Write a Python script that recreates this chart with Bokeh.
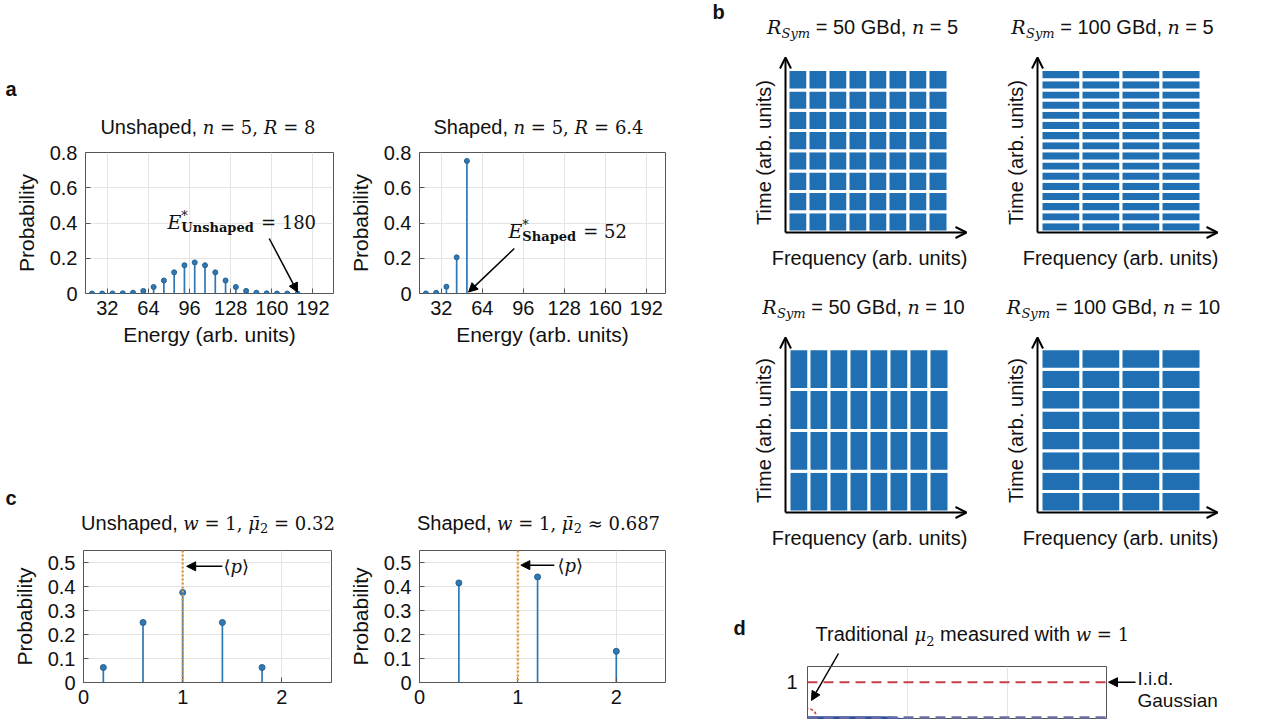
import numpy as np
from bokeh.plotting import figure
from bokeh.layouts import row, column
from bokeh.models import (Label, Arrow, NormalHead, OpenHead, Span, FixedTicker, Grid,
                          Range1d, Spacer, CustomJSTickFormatter, ColumnDataSource)
from bokeh.embed import file_html
from bokeh.resources import INLINE

# ---------------- data ----------------
energy_unshaped = [20, 28, 36, 44, 52, 60, 68, 76, 84, 92, 100, 108, 116, 124,
                   132, 140, 148, 156, 164, 172, 180]
prob_unshaped = [0.0, 0.0, 0.0002, 0.0011, 0.0046, 0.0148, 0.037, 0.0739, 0.1201,
                 0.1602, 0.1762, 0.1602, 0.1201, 0.0739, 0.037, 0.0148, 0.0046,
                 0.0011, 0.0002, 0.0, 0.0]
energy_shaped = [20, 28, 36, 44, 52]
prob_shaped = [0.0005, 0.004, 0.039, 0.205, 0.752]
energy_ticks = [32, 64, 96, 128, 160, 192]
prob_ticks_a = [0, 0.2, 0.4, 0.6, 0.8]

amp_unshaped = [0.2, 0.6, 1.0, 1.4, 1.8]
amp_prob_unshaped = [0.0625, 0.25, 0.375, 0.25, 0.0625]
amp_shaped = [0.4, 1.2, 2.0]
amp_prob_shaped = [0.415, 0.44, 0.13]
mean_amp = 1.0
amp_ticks = [0, 1, 2]
prob_ticks_c = [0, 0.1, 0.2, 0.3, 0.4, 0.5]

b_titles = [("50", "5"), ("100", "5"), ("50", "10"), ("100", "10")]
b_freq_slots = [8, 4, 8, 4]
b_time_slots = [8, 16, 4, 8]

d_w = [1, 2, 3, 5, 7, 10, 15, 20, 30, 50, 100, 200, 500, 1000]
d_mu2 = [0.687, 0.687, 0.687, 0.687, 0.685, 0.66, 0.6, 0.55, 0.49, 0.43, 0.38,
         0.35, 0.33, 0.32]
d_iid = 1.0
d_traditional = 0.687
d_grid_w = [10, 100]

# ---------------- style ----------------
SANS = "Liberation Sans"
SERIF = "DejaVu Serif"
BLUE = "#2f78b3"
BLOCK = "#1f6fb2"
ORANGE = "#e8963a"
RED = "#c8404a"
DBLUE = "#6a6ea8"
SBLUE = "#2b4f9e"
INK = "#111111"
TICK = "20px"
ALAB = "21px"

W_SANS = {' ': .278, ',': .278, '.': .278, '(': .333, ')': .333, '=': .584,
          'U': .722, 'S': .667, 'G': .778, 'B': .667, 'T': .611, 'I': .278,
          'i': .222, 'l': .222, 't': .278, 'r': .333, 'f': .278, 'j': .222,
          's': .5, 'c': .5, 'k': .5, 'v': .5, 'x': .5, 'y': .5, 'z': .5,
          'm': .833, 'w': .722}
W_SERIF = {' ': .318, ',': .318, '.': .318, '=': .838, '\u2248': .838, '*': .5,
           '\u27e8': .39, '\u27e9': .39}
W_SI = {'n': .644, 'R': .77, 'w': .856, 'E': .73, '\u03bc': .659, 'p': .64,
        'S': .663, 'y': .592, 'm': .95, '\u0304': 0.0}
W_SB = {'U': .872, 'n': .712, 's': .595, 'h': .712, 'a': .675, 'p': .716,
        'e': .678, 'd': .716, 'S': .742}
KINDS = {"sans": (SANS, "normal", W_SANS, .556),
         "sansb": (SANS, "bold", W_SANS, .6),
         "serif": (SERIF, "normal", W_SERIF, .636),
         "si": (SERIF, "italic", W_SI, .65),
         "sb": (SERIF, "bold", W_SB, .7)}


def seg_width(text, kind, size):
    table, default = KINDS[kind][2], KINDS[kind][3]
    return sum(table.get(ch, default) for ch in text) * size


def rich(p, frame, rx, ry, segs, align="left"):
    """segs: (text, kind, size, dy, advance); frame = (left, bottom) in page px;
    ry is the page y of the text baseline."""
    fl, fb = frame
    total = sum(seg_width(t, k, s) for t, k, s, dy, adv in segs if adv)
    cur = rx - total / 2 if align == "center" else rx
    for t, k, s, dy, adv in segs:
        fam, sty = KINDS[k][0], KINDS[k][1]
        lead = len(t) - len(t.lstrip(' '))
        core = t.strip(' ')
        x = cur + seg_width(' ' * lead, k, s)
        p.add_layout(Label(x=x - fl, y=fb - ry + 0.35 * s + dy, x_units="screen",
                           y_units="screen", text=core, text_font=fam,
                           text_font_style=sty, text_font_size=f"{s}px", text_color=INK,
                           text_align="left", text_baseline="middle"))
        if adv:
            cur += seg_width(t, k, s)


def plain(p, x, y, text, size=20, style="normal", align="center", baseline="middle",
          angle=0.0, font=SANS):
    p.add_layout(Label(x=x, y=y, x_units="screen", y_units="screen", text=text,
                       text_font=font, text_font_style=style, text_font_size=f"{size}px",
                       text_color=INK, text_align=align, text_baseline=baseline,
                       angle=angle))


def no_grid(p):
    for r in p.center:
        if isinstance(r, Grid):
            r.visible = False


def blank(width, height):
    p = figure(width=width, height=height, x_range=Range1d(0, width),
               y_range=Range1d(0, height), toolbar_location=None, output_backend="svg",
               title=None, x_axis_location=None, y_axis_location=None, min_border=0)
    p.outline_line_color = None
    no_grid(p)
    return p


def zero_fmt():
    return CustomJSTickFormatter(code="return tick == 0 ? '0' : tick.toFixed(1);")


def style_axes(p):
    for ax in p.axis:
        ax.axis_line_color = None
        ax.major_tick_in = 5
        ax.major_tick_out = 0
        ax.major_tick_line_color = "#555555"
        ax.minor_tick_line_color = None
        ax.major_label_text_font = SANS
        ax.major_label_text_font_size = TICK
        ax.major_label_text_color = INK
        ax.axis_label_text_font = SANS
        ax.axis_label_text_font_size = ALAB
        ax.axis_label_text_font_style = "normal"
        ax.axis_label_text_color = INK


def stem_fig(width, height, bl, br, bt, bb, xr, yr, xticks, yticks, xlabel):
    p = figure(width=width, height=height, x_range=Range1d(*xr), y_range=Range1d(*yr),
               toolbar_location=None, output_backend="svg", title=None,
               min_border_left=bl, min_border_right=br, min_border_top=bt,
               min_border_bottom=bb)
    p.outline_line_color = "#555555"
    p.xaxis.ticker = FixedTicker(ticks=xticks)
    p.yaxis.ticker = FixedTicker(ticks=yticks)
    p.yaxis.formatter = zero_fmt()
    style_axes(p)
    p.yaxis.major_label_standoff = 8
    p.yaxis.axis_label_standoff = 9
    p.yaxis.axis_label = "Probability"
    p.xaxis.major_label_standoff = 7
    p.xaxis.axis_label_standoff = 5
    if xlabel:
        p.xaxis.axis_label = xlabel
    p.grid.grid_line_color = "#e4e4e4"
    return p


def stems(p, xs, ys, size):
    src = ColumnDataSource(dict(x=xs, y=ys, y0=[0] * len(xs)))
    p.segment(x0="x", y0="y0", x1="x", y1="y", source=src, line_color=BLUE, line_width=1.7)
    p.scatter(x="x", y="y", source=src, size=size, fill_color=BLUE, line_color="#26618f")


def arrow(p, x0, y0, x1, y1, size=9, width=1.5, head=True):
    end = NormalHead(size=size, fill_color="black", line_color="black") if head else None
    p.add_layout(Arrow(end=end, x_start=x0, y_start=y0, x_end=x1, y_end=y1,
                       line_color="black", line_width=width))


# ---------------- panel a ----------------
stripA = blank(700, 65)           # page y 75..140
SA = (0, 140)
plain(stripA, 5, 140 - 88, "a", size=20, style="bold", align="left")
rich(stripA, SA, 207.5, 133, [("Unshaped, ", "sans", 20, 0, True), ("n", "si", 18, 0, True),
                              (" = 5, ", "serif", 18, 0, True), ("R", "si", 18, 0, True),
                              (" = 8", "serif", 18, 0, True)], align="center")
rich(stripA, SA, 538, 133, [("Shaped, ", "sans", 20, 0, True), ("n", "si", 18, 0, True),
                            (" = 5, ", "serif", 18, 0, True), ("R", "si", 18, 0, True),
                            (" = 6.4", "serif", 18, 0, True)], align="center")

a1 = stem_fig(345, 220, 85, 12, 12, 67, (15, 208), (0, 0.8), energy_ticks, prob_ticks_a,
              "Energy (arb. units)")
stems(a1, energy_unshaped, prob_unshaped, 5)
A1 = (85, 293)
rich(a1, A1, 167, 228, [("E", "si", 19, 0, True), ("*", "serif", 13, 8, False),
                        ("Unshaped", "sb", 13, -4, True), (" = 180", "serif", 18, 0, True)])
arrow(a1, 158, 0.312, 180, 0.008)

a2 = stem_fig(355, 220, 74, 35, 12, 67, (15, 207), (0, 0.8), energy_ticks, prob_ticks_a,
              "Energy (arb. units)")
stems(a2, energy_shaped, prob_shaped, 5)
A2 = (419, 293)
rich(a2, A2, 508, 237, [("E", "si", 19, 0, True), ("*", "serif", 13, 8, False),
                        ("Shaped", "sb", 13, -4, True), (" = 52", "serif", 18, 0, True)])
arrow(a2, 89, 0.255, 53.3, 0.008)

# ---------------- panel c ----------------
stripC = blank(700, 68)           # page y 470..538
SC = (0, 538)
plain(stripC, 5, 538 - 497, "c", size=20, style="bold", align="left")
rich(stripC, SC, 207.5, 529, [("Unshaped, ", "sans", 20, 0, True), ("w", "si", 18, 0, True),
                              (" = 1, ", "serif", 18, 0, True),
                              ("\u03bc\u0304", "si", 18, 0, True),
                              ("2", "serif", 13, -3, True), (" = 0.32", "serif", 18, 0, True)],
     align="center")
rich(stripC, SC, 538, 529, [("Shaped, ", "sans", 20, 0, True), ("w", "si", 18, 0, True),
                            (" = 1, ", "serif", 18, 0, True),
                            ("\u03bc\u0304", "si", 18, 0, True),
                            ("2", "serif", 13, -3, True),
                            (" \u2248 0.687", "serif", 18, 0, True)], align="center")

c1 = stem_fig(345, 181, 83, 14, 12, 37, (0, 2.5), (0, 0.55), amp_ticks, prob_ticks_c, None)
stems(c1, amp_unshaped, amp_prob_unshaped, 6)
c1.add_layout(Span(location=mean_amp, dimension="height", line_color=ORANGE,
                   line_dash="2 2", line_width=2.5))
C1 = (83, 682)
arrow(c1, 1.40, 0.484, 1.04, 0.484)
rich(c1, C1, 223, 572, [("\u27e8", "serif", 18, 0, True), ("p", "si", 18, 0, True),
                        ("\u27e9", "serif", 18, 0, True)])

c2 = stem_fig(355, 181, 72, 35, 12, 37, (0, 2.5), (0, 0.55), amp_ticks, prob_ticks_c, None)
stems(c2, amp_shaped, amp_prob_shaped, 6)
c2.add_layout(Span(location=mean_amp, dimension="height", line_color=ORANGE,
                   line_dash="2 2", line_width=2.5))
C2 = (417, 682)
arrow(c2, 1.37, 0.489, 1.03, 0.489)
rich(c2, C2, 555, 571, [("\u27e8", "serif", 18, 0, True), ("p", "si", 18, 0, True),
                        ("\u27e9", "serif", 18, 0, True)])


# ---------------- panel b ----------------
def grid_fig(idx, fx0, fy_bottom, W, H, cx0, cy0, sy, ox, oy, top_y, right_x,
             title_cx, title_base, time_x, time_y, freq_x, freq_y):
    sx = 20.0
    xr = (-(cx0 - fx0) / sx, -(cx0 - fx0) / sx + W / sx)
    yr = (-(fy_bottom - cy0) / sy, -(fy_bottom - cy0) / sy + H / sy)
    p = figure(width=W, height=H, x_range=Range1d(*xr), y_range=Range1d(*yr),
               toolbar_location=None, output_backend="svg", title=None,
               x_axis_location=None, y_axis_location=None, min_border=0)
    p.outline_line_color = None
    no_grid(p)
    nf, nt = b_freq_slots[idx], b_time_slots[idx]
    span = 8.0
    fw, th = span / nf, span / nt
    xs = [(i + 0.5) * fw for i in range(nf) for j in range(nt)]
    ys = [(j + 0.5) * th for i in range(nf) for j in range(nt)]
    p.rect(x=xs, y=ys, width=fw, height=th, fill_color=BLOCK, line_color="white",
           line_width=3)
    dx = lambda X: (X - cx0) / sx
    dy = lambda Y: (cy0 - Y) / sy
    for (x1, y1) in [(dx(ox), dy(top_y)), (dx(right_x), dy(oy))]:
        p.add_layout(Arrow(end=OpenHead(size=11, line_width=2, line_color="black"),
                           x_start=dx(ox), y_start=dy(oy), x_end=x1, y_end=y1,
                           line_color="black", line_width=2))
    frame = (fx0, fy_bottom)
    rate, n = b_titles[idx]
    rich(p, frame, title_cx, title_base,
         [("R", "si", 19, 0, True), ("Sym", "si", 13, -5, True),
          (f" = {rate} GBd, ", "sans", 20, 0, True), ("n", "si", 19, 0, True),
          (f" = {n}", "sans", 20, 0, True)], align="center")
    plain(p, time_x - fx0, fy_bottom - time_y, "Time (arb. units)", size=20,
          angle=np.pi / 2)
    plain(p, freq_x - fx0, fy_bottom - freq_y, "Frequency (arb. units)", size=20)
    return p


b1 = grid_fig(0, 700, 283, 286, 283, 787.5, 231.5, 20.3, 785, 232, 57, 966,
              862, 33, 763, 152, 869, 257)
b2 = grid_fig(1, 986, 283, 294, 283, 1040.5, 231.5, 20.3, 1037, 232, 57, 1217,
              1112, 33, 1015, 152, 1120, 257)
b3 = grid_fig(2, 700, 560, 286, 277, 788.5, 511.5, 20.4, 785, 512, 337, 966,
              863, 313, 763, 430, 869, 537)
b4 = grid_fig(3, 986, 560, 294, 277, 1040.5, 511.5, 20.4, 1037, 512, 337, 1217,
              1113, 313, 1015, 430, 1120, 537)
plain(b1, 12, 283 - 11, "b", size=20, style="bold", align="left")

# ---------------- panel d ----------------
stripD = blank(580, 106)          # page x 700..1280, y 560..666
SD = (700, 666)
plain(stripD, 733 - 700, 666 - 627, "d", size=20, style="bold", align="left")
rich(stripD, SD, 815, 640, [("Traditional ", "sans", 20, 0, True), ("\u03bc", "si", 18, 0, True),
                            ("2", "serif", 13, -5, True), (" measured with ", "sans", 20, 0, True),
                            ("w", "si", 18, 0, True), (" = 1", "serif", 18, 0, True)])
arrow(stripD, 838 - 700, 666 - 653, 830.5 - 700, 0, head=False)

d = figure(width=407, height=53, x_axis_type="log", x_range=Range1d(1, 1000),
           y_range=Range1d(0.669, 1.139), toolbar_location=None, output_backend="svg",
           title=None, x_axis_location=None, min_border_left=107, min_border_right=0,
           min_border_top=0, min_border_bottom=0)
d.outline_line_color = "#555555"
no_grid(d)
d.add_layout(Grid(dimension=0, ticker=FixedTicker(ticks=d_grid_w), grid_line_color="#e4e4e4"))
d.yaxis.ticker = FixedTicker(ticks=[0.5, 1.0])
d.yaxis.formatter = CustomJSTickFormatter(code="return tick.toFixed(0);")
style_axes(d)
d.yaxis.major_label_standoff = 10
d.line(d_w, d_mu2, line_color=SBLUE, line_width=2.5)
d.add_layout(Span(location=d_iid, dimension="width", line_color=RED, line_dash="10 6",
                  line_width=2))
d.add_layout(Span(location=d_traditional, dimension="width", line_color=DBLUE,
                  line_dash="10 6", line_width=2.5))
d.scatter(x=[d_w[0]], y=[d_traditional], size=18, fill_color=None, line_color=RED,
          line_dash="3 2", line_width=1.5)
arrow(d, 1.718, 1.139, 1.096, 0.838)

side = blank(173, 53)             # page x 1107..1280, y 666..719
plain(side, 1137 - 1107, 719 - 678, "I.i.d.", size=19, align="left")
plain(side, 1137 - 1107, 719 - 700, "Gaussian", size=19, align="left")
arrow(side, 1135 - 1107, 719 - 681.7, 1, 719 - 681.7)

# ---------------- layout ----------------
left = column(Spacer(width=700, height=75), stripA, row(a1, a2),
              Spacer(width=700, height=110), stripC, row(c1, c2))
right = column(row(b1, b2), row(b3, b4), stripD, row(d, side))
layout = row(left, right)

open("out.html", "w").write(file_html(layout, INLINE))
